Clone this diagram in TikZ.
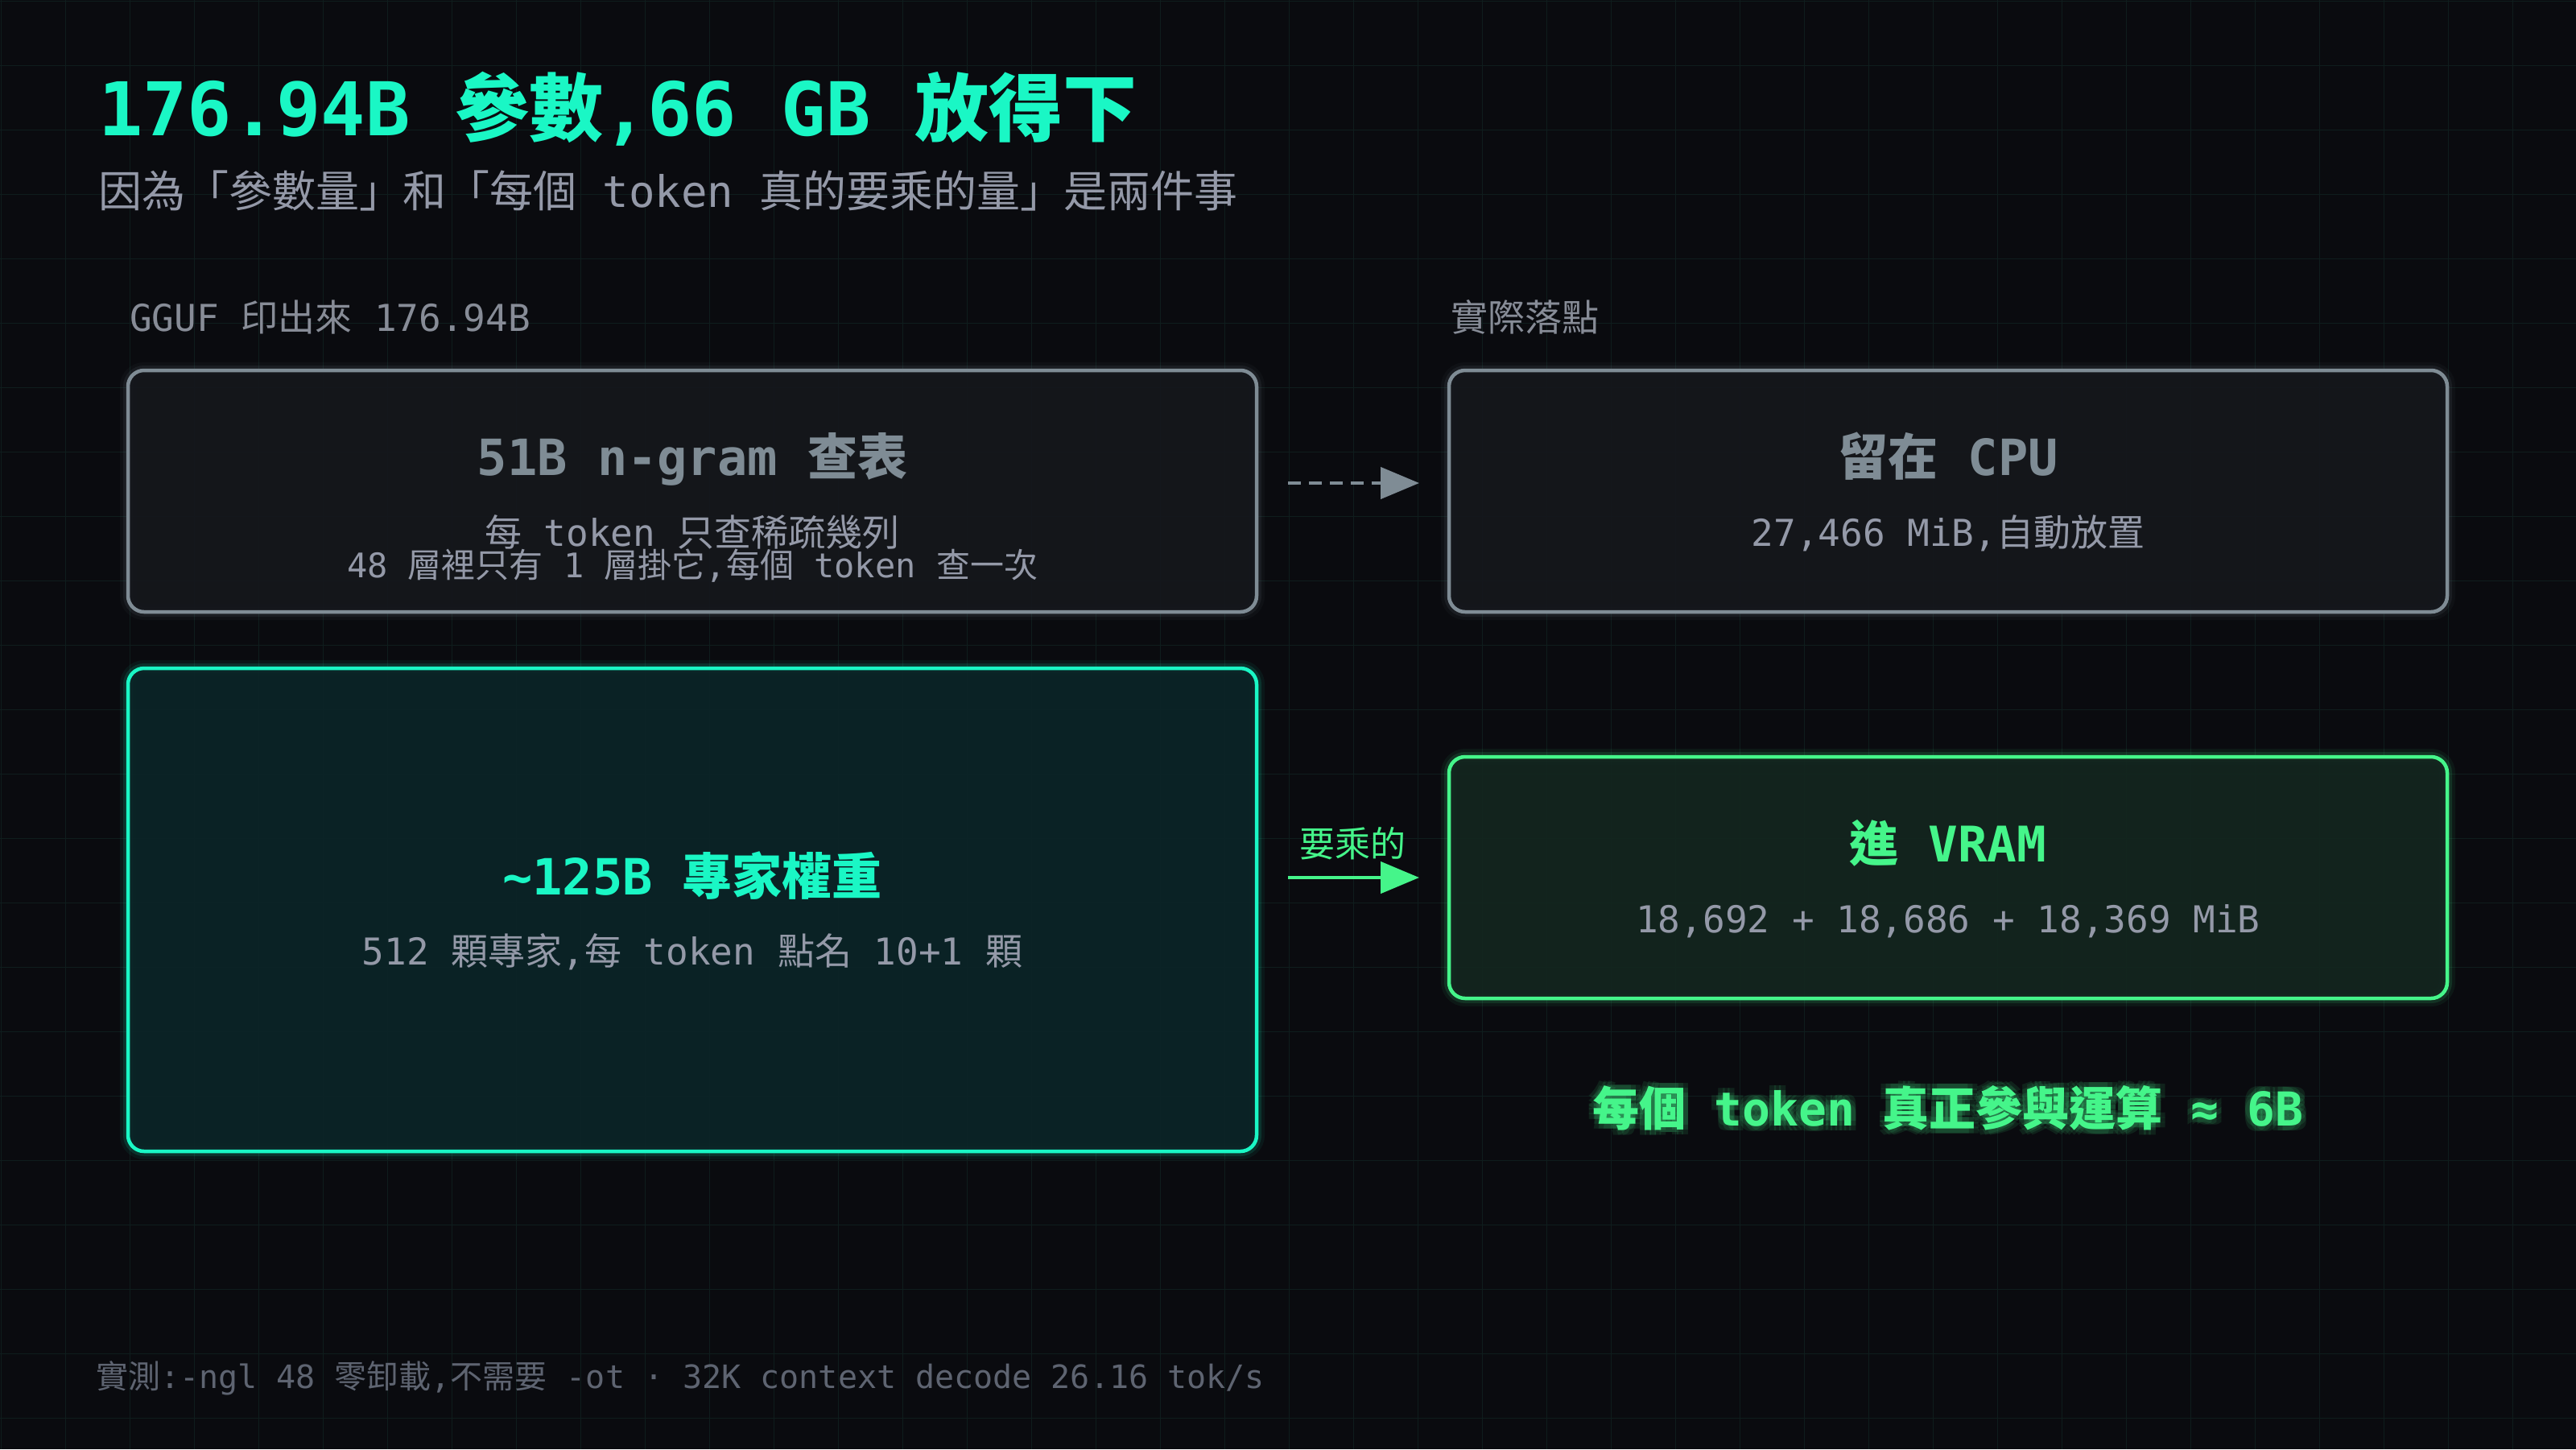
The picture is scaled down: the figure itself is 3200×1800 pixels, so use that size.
\documentclass[tikz,border=0pt]{standalone}
\usepackage{fontspec}
\setmainfont{DejaVu Sans Mono}
\newfontfamily\cjkf{Noto Sans CJK TC}
\usetikzlibrary{arrows.meta}
\newcommand\cj[1]{{\cjkf #1}}
\newcommand\fsz[1]{\fontsize{#1}{#1}\selectfont}
\definecolor{bgc}{HTML}{0A0B0F}
\definecolor{gridc}{HTML}{0F1D1D}
\definecolor{cteal}{HTML}{1AF7C5}
\definecolor{cgreen}{HTML}{45F58A}
\definecolor{cslate}{HTML}{7F8C95}
\definecolor{csub}{HTML}{9499A8}
\definecolor{clabel}{HTML}{878C97}
\definecolor{cfoot}{HTML}{5E6471}
\definecolor{cgrayfill}{HTML}{15171C}
\definecolor{ctealfill}{HTML}{0B2427}
\definecolor{cgreenfill}{HTML}{13261F}
\begin{document}
\begin{tikzpicture}[x=0.5pt,y=-0.5pt,
  txt/.style={inner sep=0pt, outer sep=0pt, anchor=base},
  gridln/.style={draw=gridc, line width=0.5pt},
  box/.style={rectangle, rounded corners=10pt, line width=2.25pt, inner sep=0pt, outer sep=0pt},
  graybox/.style={box, draw=cslate, fill=cgrayfill, fill opacity=0.92,
    preaction={draw=cslate, line width=10pt, draw opacity=0.05},
    preaction={draw=cslate, line width=6pt, draw opacity=0.10}},
  tealbox/.style={box, draw=cteal, fill=ctealfill, fill opacity=0.92,
    preaction={draw=cteal, line width=10pt, draw opacity=0.06},
    preaction={draw=cteal, line width=6pt, draw opacity=0.12}},
  greenbox/.style={box, draw=cgreen, fill=cgreenfill, fill opacity=0.92,
    preaction={draw=cgreen, line width=10pt, draw opacity=0.06},
    preaction={draw=cgreen, line width=6pt, draw opacity=0.12}},
  dasharr/.style={draw=cslate, line width=2.25pt, dash pattern=on 8pt off 5pt,
    -{Triangle[length=24pt,width=19.5pt]}},
  greenarr/.style={draw=cgreen, line width=2.25pt,
    -{Triangle[length=24pt,width=19.5pt]}}
]
\fill[bgc] (0,0) rectangle (3200,1800);
\useasboundingbox (0,0) rectangle (3200,1800);
\foreach \i in {0,...,39} \draw[gridln] (\i*80+1,0) -- (\i*80+1,1800);
\foreach \j in {0,...,22} \draw[gridln] (0,\j*80+1) -- (3200,\j*80+1);

% title
\node[txt, anchor=base west, text=cteal, font=\fsz{46pt}\bfseries] (title) at (122,168)
  {176.94B \cj{參數},66 GB \cj{放得下}};
\node[txt, anchor=base west, text=csub, font=\fsz{27pt}] (subtitle) at (122,257)
  {\cj{因為「參數量」和「每個} token \cj{真的要乘的量」是兩件事}};

% column labels
\node[txt, anchor=base west, text=clabel, font=\fsz{23pt}] (gguf) at (161,411)
  {GGUF \cj{印出來} 176.94B};
\node[txt, anchor=base west, text=clabel, font=\fsz{23pt}] (land) at (1802,411)
  {\cj{實際落點}};

% boxes
\node[graybox, minimum width=701pt, minimum height=150pt] (ngram) at (860,610) {};
\node[graybox, minimum width=620pt, minimum height=150pt] (cpu) at (2420,610) {};
\node[tealbox, minimum width=701pt, minimum height=300pt] (expert) at (860,1130) {};
\node[greenbox, minimum width=620pt, minimum height=150pt] (vram) at (2420,1090) {};

% box texts
\node[txt, text=cslate, font=\fsz{31pt}\bfseries] (ngramT) at (860,590) {51B n-gram \cj{查表}};
\node[txt, text=csub, font=\fsz{23pt}] (ngramA) at (860,678) {\cj{每} token \cj{只查稀疏幾列}};
\node[txt, text=csub, font=\fsz{21pt}] (ngramB) at (860,717)
  {48 \cj{層裡只有} 1 \cj{層掛它},\cj{每個} token \cj{查一次}};

\node[txt, text=cslate, font=\fsz{31pt}\bfseries] (cpuT) at (2420,590) {\cj{留在} CPU};
\node[txt, text=csub, font=\fsz{23pt}] (cpuA) at (2420,678) {27,466 MiB,\cj{自動放置}};

\node[txt, text=cteal, font=\fsz{31pt}\bfseries] (expT) at (860,1111) {\textasciitilde125B \cj{專家權重}};
\node[txt, text=csub, font=\fsz{23pt}] (expA) at (860,1198)
  {512 \cj{顆專家},\cj{每} token \cj{點名} 10+1 \cj{顆}};

\node[txt, text=cgreen, font=\fsz{30.5pt}\bfseries] (vramT) at (2420,1070) {\cj{進} VRAM};
\node[txt, text=csub, font=\fsz{23pt}] (vramA) at (2420,1158) {18,692 + 18,686 + 18,369 MiB};

% connectors
\coordinate (dA) at ([yshift=5pt]ngram.east);
\coordinate (dB) at ([yshift=5pt]cpu.west);
\draw[dasharr, shorten <=19.5pt, shorten >=18.5pt] (dA) -- (dB);
\draw[greenarr, shorten <=19.5pt, shorten >=18.5pt] (vram.west -| expert.east) -- (vram.west)
  node[midway, txt, yshift=13pt, text=cgreen, font=\fsz{22pt}] (mulLbl) {\cj{要乘的}};

% bottom result with glow
\foreach \dx/\dy [count=\k] in {3/0,-3/0,0/3,0/-3,3/3,-3/3,3/-3,-3/-3}
  \node[txt, text=cgreen, text opacity=0.1, font=\fsz{29pt}\bfseries, xshift=\dx pt, yshift=\dy pt]
    (glow\k) at (2420,1398) {\cj{每個} token \cj{真正參與運算} ≈ 6B};
\node[txt, text=cgreen, font=\fsz{29pt}\bfseries] (total) at (2420,1398)
  {\cj{每個} token \cj{真正參與運算} ≈ 6B};

% footer
\node[txt, anchor=base west, text=cfoot, font=\fsz{20pt}] (foot) at (119,1724)
  {\cj{實測}:-ngl 48 \cj{零卸載},\cj{不需要} -ot · 32K context decode 26.16 tok/s};
\end{tikzpicture}
\end{document}
